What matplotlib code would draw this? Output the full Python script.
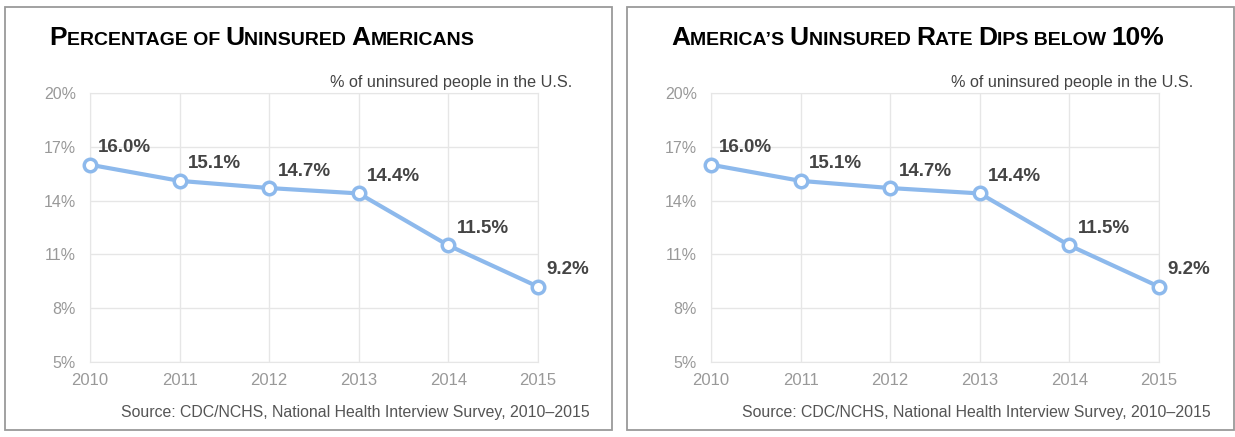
import matplotlib
matplotlib.use("Agg")
import matplotlib.pyplot as plt
from matplotlib.patches import Rectangle
from matplotlib.offsetbox import TextArea, HPacker, AnchoredOffsetbox

years = [2010, 2011, 2012, 2013, 2014, 2015]
rates = [16.0, 15.1, 14.7, 14.4, 11.5, 9.2]
yticks = [5, 8, 11, 14, 17, 20]
titles = [
    [("P", 1), ("ERCENTAGE OF ", 0), ("U", 1), ("NINSURED ", 0), ("A", 1), ("MERICANS", 0)],
    [("A", 1), ("MERICA\u2019S ", 0), ("U", 1), ("NINSURED ", 0), ("R", 1), ("ATE ", 0),
     ("D", 1), ("IPS BELOW ", 0), ("10%", 1)],
]
subtitle = "% of uninsured people in the U.S."
source = "Source: CDC/NCHS, National Health Interview Survey, 2010\u20132015"

plt.rcParams['font.family'] = ['Liberation Sans', 'DejaVu Sans']

W, H = 1235, 437
fig = plt.figure(figsize=(W / 100, H / 100), dpi=100)
fig.patch.set_facecolor('white')

blue = '#8db9ec'
grid = '#e6e6e6'

panels = [(5, 90), (627, 711)]
for (bx, ax0), title in zip(panels, titles):
    # panel border
    fig.add_artist(Rectangle((bx / W, 7 / H), 607 / W, 423 / H, transform=fig.transFigure,
                             fill=False, edgecolor='#9a9a9a', linewidth=1.3))
    ax = fig.add_axes([ax0 / W, 1 - 362 / H, 448 / W, 269 / H])
    ax.plot(years, rates, color=blue, linewidth=3, marker='o', markersize=9,
            markerfacecolor='white', markeredgecolor=blue, markeredgewidth=2.5, zorder=3,
            clip_on=False)
    for x, v in zip(years, rates):
        ax.annotate(f"{v:.1f}%", (x, v), xytext=(6, 9), textcoords='offset points',
                    fontsize=13.5, fontweight='bold', color='#444444', ha='left',
                    va='baseline')
    ax.set_xlim(2010, 2015)
    ax.set_ylim(5, 20)
    ax.set_xticks(years)
    ax.set_yticks(yticks)
    ax.set_yticklabels([f"{t}%" for t in yticks])
    ax.grid(True, color=grid, linewidth=1)
    for s in ax.spines.values():
        s.set_color(grid)
    ax.tick_params(length=0, labelcolor='#999999')
    ax.tick_params(axis='y', pad=10, labelsize=11.5)
    ax.tick_params(axis='x', pad=8, labelsize=12)

    # small caps title
    parts = [TextArea(t, textprops=dict(fontsize=19 if big else 14, fontweight='bold',
                                        color='black'))
             for t, big in title]
    box = HPacker(children=parts, align='baseline', pad=0, sep=0)
    anc = AnchoredOffsetbox(loc='lower left', child=box, pad=0, borderpad=0, frameon=False,
                            bbox_to_anchor=((bx + 44) / W, 1 - 50 / H),
                            bbox_transform=fig.transFigure)
    fig.add_artist(anc)

    fig.text((ax0 + 482) / W, 1 - 82 / H, subtitle, fontsize=11.7, color='#444444',
             ha='right', va='center')
    fig.text((ax0 + 500) / W, 1 - 412 / H, source, fontsize=11.4, color='#555555',
             ha='right', va='center')

fig.savefig('out.png', dpi=100)
